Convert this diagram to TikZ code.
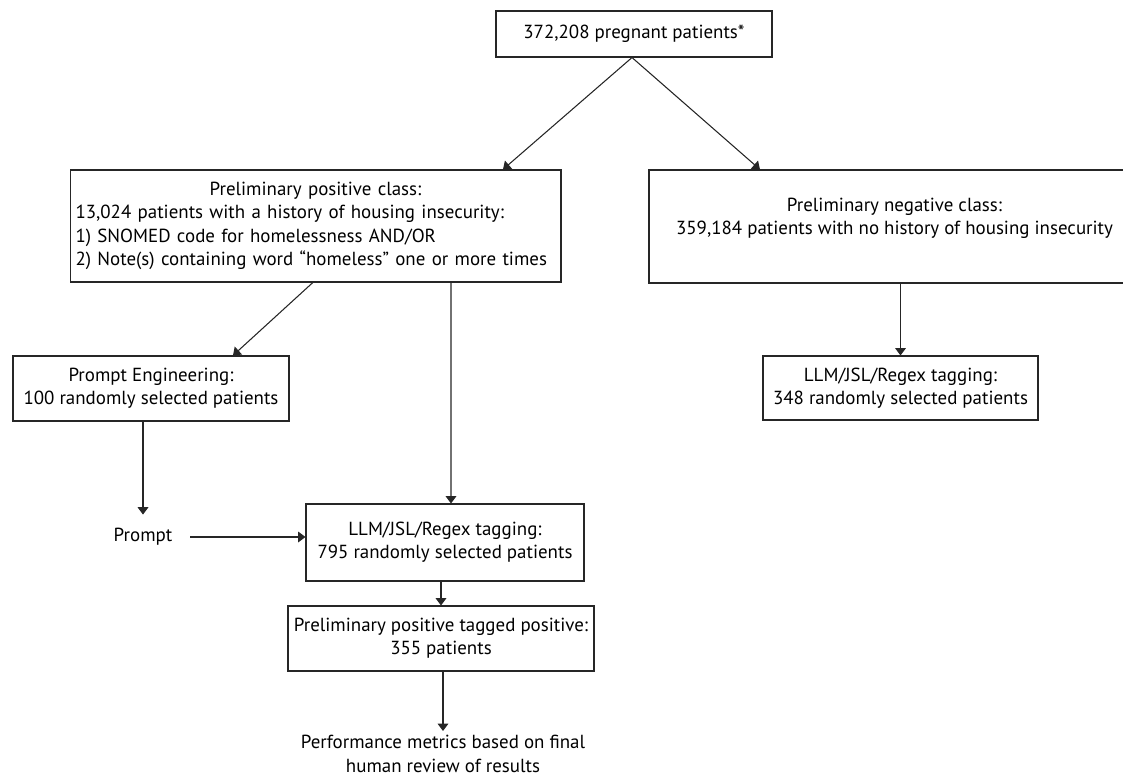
\documentclass[tikz,border=0pt]{standalone}
\usepackage{fontspec}
\setmainfont{PT Sans}
\usepackage{tikz}
\usetikzlibrary{arrows.meta,positioning}

\begin{document}
\begin{tikzpicture}[x=0.75pt,y=-0.75pt,>={Triangle[width=8pt,length=5.5pt]},line width=0.8pt]
  \tikzstyle{box}=[draw=black!85, inner sep=2pt, align=center, font=\fontsize{14.2pt}{17.5pt}\selectfont]
  \tikzstyle{plain}=[inner sep=2pt, align=center, font=\fontsize{14.2pt}{17.5pt}\selectfont]
  \clip (0,0) rectangle (1123,778);

  \node[box, minimum width=207pt, minimum height=34.5pt]   (top)  at (634, 34)    {372,208 pregnant patients*};
  \node[box, text width=360pt, inner xsep=4.1pt, minimum height=84pt, align=left] (pos) at (315.5, 226)
    {\hbox to\hsize{\hss Preliminary positive class:\hss}\\13,024 patients with a history of housing insecurity:\\1) SNOMED code for homelessness AND/OR\\2) Note(s) containing word “homeless” one or more times};
  \node[box, minimum width=368.25pt, minimum height=84.75pt] (neg)  at (894.5, 226.5)
    {Preliminary negative class:\\359,184 patients with no history of housing insecurity\\[-7pt] \strut};
  \node[box, minimum width=207pt, minimum height=48.75pt]  (pe)   at (151, 388.5)  {Prompt Engineering:\\100 randomly selected patients};
  \node[box, minimum width=206.25pt, minimum height=48pt]  (rllm) at (900.5, 388)  {LLM/JSL/Regex tagging:\\348 randomly selected patients};
  \node[plain]                                             (prompt) at (143, 537)  {Prompt};
  \node[box, minimum width=208.5pt, minimum height=57.75pt] (llm) at (445, 542.5)  {LLM/JSL/Regex tagging:\\795 randomly selected patients};
  \node[box, minimum width=229.5pt, minimum height=48.75pt] (tag) at (441, 638.5)  {Preliminary positive tagged positive:\\355 patients};
  \node[plain]                                             (perf) at (443, 754)    {Performance metrics based on final\\human review of results};

  \path[->, black!85]
  ([xshift=-1.5pt]top.south) edge ([xshift=140.6pt]pos.north)
  ([xshift=-1.5pt]top.south) edge ([xshift=-100.9pt]neg.north)
  ([xshift=-2pt]pos.south)   edge ([xshift=61.5pt]pe.north)
  ([xshift=101.6pt]pos.south) edge ([xshift=4.5pt]llm.north)
  (neg.south -| rllm.north)  edge (rllm.north)
  (pe.south -| prompt)       edge [shorten >=8pt] (prompt)
  (prompt.east)              edge [shorten <=11pt] (prompt.east -| llm.west)
  (llm.south -| tag.north)   edge (tag.north)
  (tag.south -| perf.north)  edge [shorten >=1pt] (perf.north);
\end{tikzpicture}
\end{document}
